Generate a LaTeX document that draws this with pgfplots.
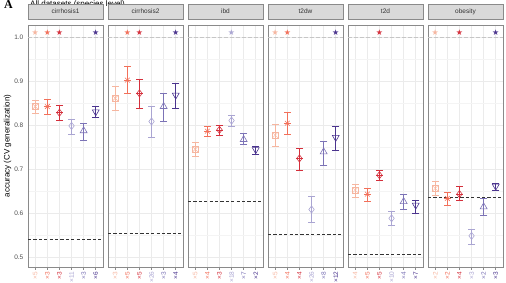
\documentclass[border=0pt]{standalone}
\usepackage{pgfplots}
\pgfplotsset{compat=1.18}
\usepackage{fontspec}
\setmainfont{Liberation Sans}
\newfontfamily\serifbf{Liberation Serif}
\newfontfamily\symfont{DejaVu Sans}
\definecolor{c1}{HTML}{F6B6A0}
\definecolor{c2}{HTML}{F2705A}
\definecolor{c3}{HTML}{D4303C}
\definecolor{c4}{HTML}{AAA5D2}
\definecolor{c5}{HTML}{7C73B6}
\definecolor{c6}{HTML}{4B348E}
\definecolor{gridc}{HTML}{EBEBEB}
\definecolor{gridm}{HTML}{F4F4F4}
\definecolor{framec}{HTML}{8A8A8A}
\definecolor{stripc}{HTML}{D9D9D9}
\definecolor{txtc}{HTML}{4D4D4D}

\newcommand\eb[4]{\addplot[#1, mark=-, mark size=3.6pt, line width=0.6pt] coordinates {(#2,#3) (#2,#4)};}
\newcommand\pA[3]{\eb{c1}{1}{#2}{#3}%
 \addplot[c1, only marks, mark=square, mark size=2.8pt, line width=0.55pt] coordinates {(1,#1)};%
 \addplot[c1, only marks, mark=x, mark size=3.9pt, line width=0.5pt] coordinates {(1,#1)};}
\newcommand\pB[3]{\eb{c2}{2}{#2}{#3}%
 \addplot[c2, only marks, mark=+, mark size=3.4pt, line width=0.55pt] coordinates {(2,#1)};%
 \addplot[c2, only marks, mark=x, mark size=3.4pt, line width=0.55pt] coordinates {(2,#1)};}
\newcommand\pC[3]{\eb{c3}{3}{#2}{#3}%
 \addplot[c3, only marks, mark=diamond, mark size=3.6pt, line width=0.6pt] coordinates {(3,#1)};%
 \addplot[c3, only marks, mark=+, mark size=3.6pt, line width=0.55pt] coordinates {(3,#1)};}
\newcommand\pD[3]{\eb{c4}{4}{#2}{#3}%
 \addplot[c4, only marks, mark=diamond, mark size=3.6pt, line width=0.6pt] coordinates {(4,#1)};}
\newcommand\pE[3]{\eb{c5}{5}{#2}{#3}%
 \addplot[c5, only marks, mark=triangle, mark size=4pt, line width=0.6pt] coordinates {(5,#1)};}
\newcommand\pF[3]{\eb{c6}{6}{#2}{#3}%
 \addplot[c6, only marks, mark=triangle, mark size=4pt, line width=0.6pt, mark options={rotate=180}] coordinates {(6,#1)};}
\newcommand\st[2]{\addplot[#1, only marks, mark=text, text mark={\color{#1}\symfont\fontsize{8}{8}\selectfont ★}, mark options={#1}] coordinates {(#2,1.009)};}
\newcommand\base[1]{\addplot[black!80, line width=0.7pt, dash pattern=on 3.2pt off 2.2pt, no marks] coordinates {(0.4,#1) (6.6,#1)};
 \addplot[gray!45, line width=0.5pt, dash pattern=on 4pt off 2pt, no marks] coordinates {(0.4,1) (6.6,1)};}

\pgfplotsset{
 panel/.style={
  width=75pt, height=242pt, scale only axis, anchor=north west,
  xmin=0.4, xmax=6.6, ymin=0.4773, ymax=1.0273,
  xtick={1,2,3,4,5,6}, ytick={0.5,0.6,0.7,0.8,0.9,1.0},
  minor ytick={0.55,0.65,0.75,0.85,0.95},
  grid=both, major grid style={gridc, line width=0.5pt}, minor grid style={gridm, line width=0.3pt},
  axis line style={framec, line width=0.7pt},
  tick align=outside, major tick length=3pt, minor tick length=0pt, tick pos=left,
  x tick style={framec, line width=0.5pt},
  x tick label style={rotate=90, anchor=east, font=\fontsize{6.5}{7}\selectfont, inner sep=1.5pt},
  title style={at={(0.5,1)}, anchor=south, fill=stripc, draw=framec, line width=0.6pt,
   minimum width=75pt, minimum height=14.5pt, inner sep=0pt, text height=5pt, text depth=1.2pt,
   font=\fontsize{6.5}{7}\selectfont, text=black!80, yshift=-0.3pt},
  yticklabels={}, y tick style={draw=none},
 },
 xl/.style n args={6}{xticklabels={{\color{c1}×#1},{\color{c2}×#2},{\color{c3}×#3},{\color{c4}×#4},{\color{c5}×#5},{\color{c6}×#6}}},
}

\begin{document}
\begin{tikzpicture}
\node[anchor=base west, font=\serifbf\bfseries\fontsize{12}{12}\selectfont, inner sep=0pt] at (4pt,-8.5pt) {A};
\node[anchor=base west, font=\fontsize{8}{8}\selectfont, inner sep=0pt] at (30pt,-6.4pt) {All datasets (species level)};

\begin{axis}[panel, at={(28pt,-25pt)}, title={cirrhosis1}, xl={5}{3}{3}{11}{3}{6},
  yticklabels={0.5,0.6,0.7,0.8,0.9,1.0}, y tick style={framec, line width=0.5pt},
  y tick label style={font=\fontsize{6.5}{7}\selectfont, text=txtc, inner sep=1.5pt},
  ylabel={accuracy (CV generalization)}, ylabel style={font=\fontsize{8}{8}\selectfont, yshift=-2pt}]
\base{0.541}
\pA{0.842}{0.827}{0.857}
\pB{0.842}{0.825}{0.858}
\pC{0.828}{0.811}{0.845}
\pD{0.798}{0.780}{0.814}
\pE{0.787}{0.766}{0.805}
\pF{0.830}{0.818}{0.843}
\st{c1}{1}\st{c2}{2}\st{c3}{3}\st{c6}{6}
\end{axis}

\begin{axis}[panel, at={(108pt,-25pt)}, title={cirrhosis2}, xl={3}{5}{5}{26}{3}{4}]
\base{0.554}
\pA{0.861}{0.833}{0.889}
\pB{0.902}{0.872}{0.933}
\pC{0.872}{0.839}{0.904}
\pD{0.808}{0.772}{0.842}
\pE{0.842}{0.809}{0.873}
\pF{0.868}{0.839}{0.895}
\st{c2}{2}\st{c3}{3}\st{c6}{6}
\end{axis}

\begin{axis}[panel, at={(188pt,-25pt)}, title={ibd}, xl={5}{4}{3}{18}{7}{2}]
\base{0.626}
\pA{0.745}{0.730}{0.760}
\pB{0.786}{0.775}{0.796}
\pC{0.789}{0.777}{0.799}
\pD{0.810}{0.798}{0.823}
\pE{0.767}{0.756}{0.781}
\pF{0.744}{0.734}{0.752}
\st{c4}{4}
\end{axis}

\begin{axis}[panel, at={(268pt,-25pt)}, title={t2dw}, xl={5}{4}{4}{26}{8}{12}]
\base{0.552}
\pA{0.777}{0.752}{0.802}
\pB{0.804}{0.779}{0.829}
\pC{0.724}{0.698}{0.748}
\pD{0.608}{0.579}{0.637}
\pE{0.739}{0.709}{0.764}
\pF{0.772}{0.742}{0.798}
\st{c1}{1}\st{c2}{2}\st{c6}{6}
\end{axis}

\begin{axis}[panel, at={(348pt,-25pt)}, title={t2d}, xl={4}{5}{5}{10}{4}{7}]
\base{0.506}
\pA{0.652}{0.636}{0.666}
\pB{0.643}{0.626}{0.656}
\pC{0.686}{0.675}{0.698}
\pD{0.588}{0.573}{0.603}
\pE{0.626}{0.608}{0.643}
\pF{0.618}{0.599}{0.630}
\st{c3}{3}
\end{axis}

\begin{axis}[panel, at={(428pt,-25pt)}, title={obesity}, xl={2}{2}{4}{3}{2}{3}]
\base{0.635}
\pA{0.656}{0.641}{0.671}
\pB{0.633}{0.618}{0.648}
\pC{0.643}{0.630}{0.660}
\pD{0.548}{0.530}{0.563}
\pE{0.614}{0.595}{0.633}
\pF{0.661}{0.652}{0.667}
\st{c1}{1}\st{c3}{3}\st{c6}{6}
\end{axis}

\pgfresetboundingbox
\path[use as bounding box] (0pt,0pt) rectangle (506pt,-283pt);
\end{tikzpicture}
\end{document}
